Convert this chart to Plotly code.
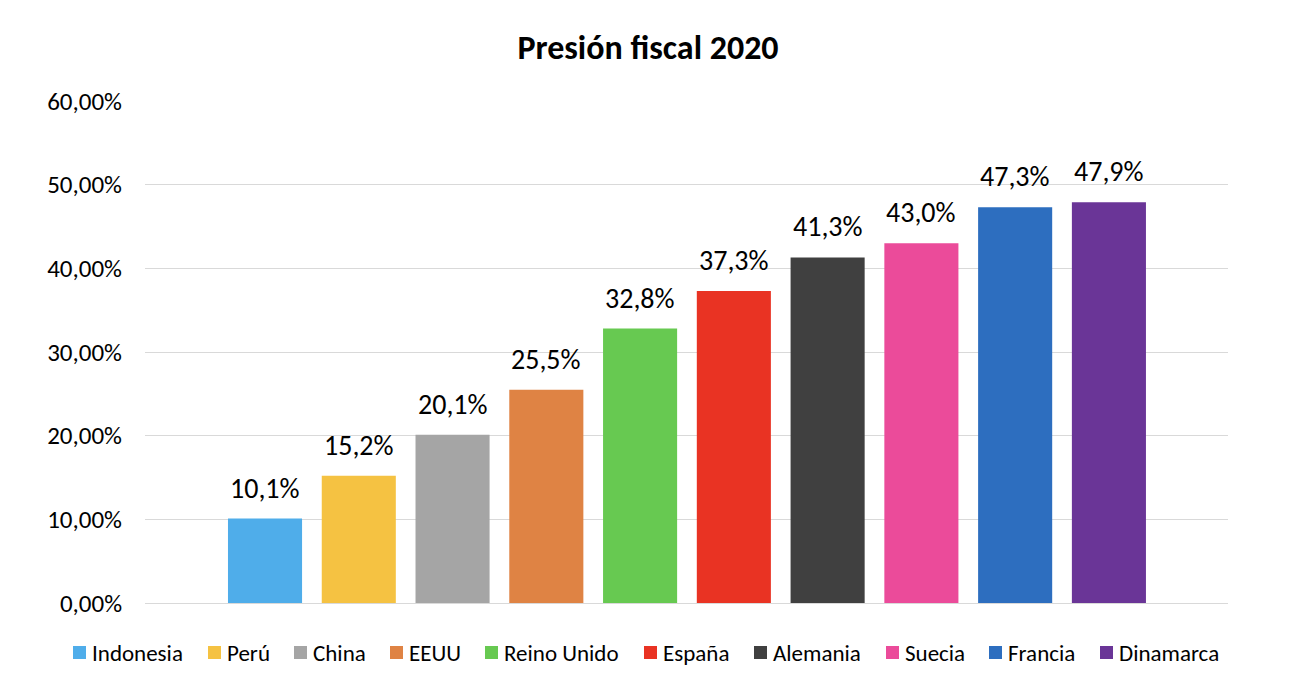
import plotly.graph_objects as go

countries = ["Indonesia", "Perú", "China", "EEUU", "Reino Unido", "España",
             "Alemania", "Suecia", "Francia", "Dinamarca"]
values = [10.1, 15.2, 20.1, 25.5, 32.8, 37.3, 41.3, 43.0, 47.3, 47.9]
colors = ["#4FADEA", "#F5C242", "#A5A5A5", "#DF8344", "#67C951", "#E93323",
          "#404040", "#EB4B9A", "#2D6EBF", "#6A3597"]
yticks = [0, 0.1, 0.2, 0.3, 0.4, 0.5, 0.6]

# legend layout (pixel position of each swatch's left edge)
legend_px = [73, 208, 294, 390, 485, 644, 754, 886, 989, 1100]

FONT = "Carlito, Calibri, Lato, sans-serif"
W, H = 1296, 696
ML, MR, MT, MB = 145, 68, 101, 93
PW, PH = W - ML - MR, H - MT - MB


def px2x(px):
    return (px - ML) / PW


def py2y(py):
    return (H - MB - py) / PH


fig = go.Figure()
for i, (c, v, col) in enumerate(zip(countries, values, colors)):
    fig.add_trace(go.Bar(
        x=[i], y=[v / 100], name=c, marker=dict(color=col, line=dict(width=0)),
        width=0.79, hoverinfo="skip", showlegend=False))
    fig.add_annotation(
        x=i, y=v / 100, xref="x", yref="y", text=f"{v:.1f}%".replace(".", ","),
        showarrow=False, xanchor="center", yanchor="bottom", yshift=11,
        font=dict(size=28, color="#000000", family=FONT))

# legend: swatch + label per country
for c, col, lx in zip(countries, colors, legend_px):
    fig.add_shape(type="rect", xref="paper", yref="paper",
                  x0=px2x(lx), x1=px2x(lx + 13), y0=py2y(659), y1=py2y(646),
                  fillcolor=col, line=dict(width=0))
    fig.add_annotation(x=px2x(lx + 18), y=py2y(652.5), xref="paper", yref="paper",
                       text=c, showarrow=False, xanchor="left", yanchor="middle",
                       borderpad=0, font=dict(size=23, color="#000000", family=FONT))

fig.update_layout(
    width=W, height=H,
    paper_bgcolor="white", plot_bgcolor="white",
    margin=dict(l=ML, r=MR, t=MT, b=MB, autoexpand=False),
    separators=",.",
    barmode="overlay",
    showlegend=False,
    title=dict(text="<b>Presión fiscal 2020</b>", x=0.5, xanchor="center",
               y=1 - 47 / H, yanchor="middle",
               font=dict(size=34, color="#000000", family=FONT)),
    xaxis=dict(range=[-1.28, 10.27], showticklabels=False, showgrid=False,
               zeroline=False, showline=False, ticks=""),
    yaxis=dict(range=[0, 0.6], tickvals=yticks, tickformat=".2%",
               showgrid=True, gridcolor="#D9D9D9", gridwidth=1.3,
               zeroline=True, zerolinecolor="#D9D9D9", zerolinewidth=1.3,
               showline=False, ticks="", ticklabelstandoff=22,
               tickfont=dict(size=25, color="#000000", family=FONT)),
)

fig.write_html("out.html")
